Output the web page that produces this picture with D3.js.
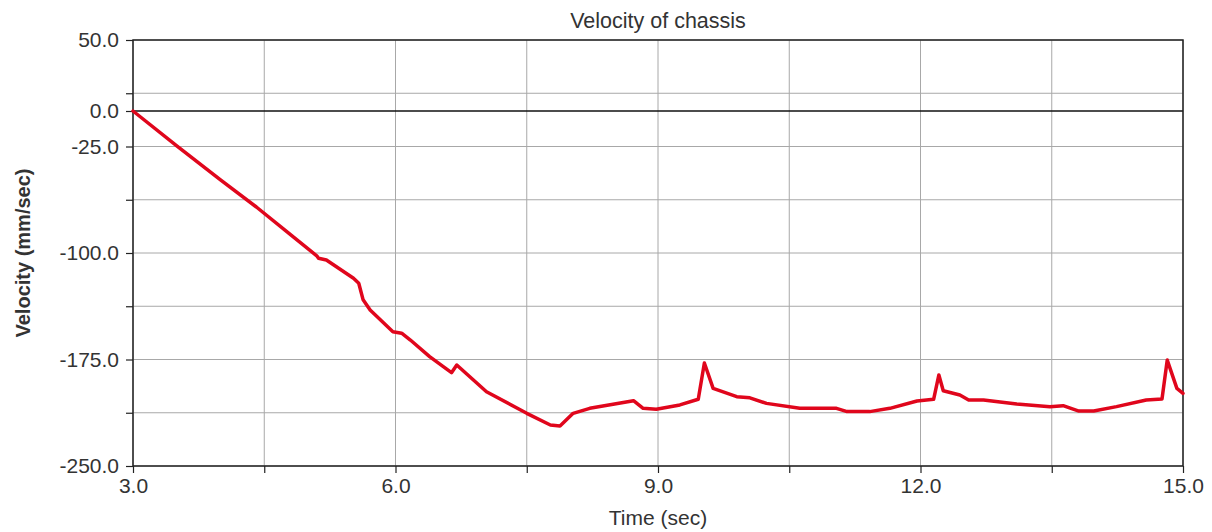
<!DOCTYPE html>
<html>
<head>
<meta charset="utf-8">
<script src="https://cdn.jsdelivr.net/npm/d3@7"></script>
<style>
  html, body { margin: 0; padding: 0; background: #fff; }
  svg { display: block; }
  text { font-family: Arial, "Liberation Sans", sans-serif; fill: #333; }
</style>
</head>
<body>
<svg id="chart" width="1212" height="532"></svg>
<script>
// Chassis velocity trace (time in s, velocity in mm/s)
const timeValues = [3.00, 3.50, 4.00, 4.41, 4.80, 5.10, 5.12, 5.21, 5.52, 5.58, 5.63, 5.71, 5.97, 6.07, 6.17, 6.39, 6.64, 6.70, 7.04, 7.50, 7.77, 7.88, 8.03, 8.22, 8.72, 8.83, 8.98, 9.25, 9.46, 9.53, 9.63, 9.90, 10.05, 10.24, 10.62, 11.04, 11.16, 11.42, 11.65, 11.96, 12.15, 12.21, 12.26, 12.45, 12.55, 12.72, 13.10, 13.48, 13.63, 13.81, 13.98, 14.24, 14.58, 14.76, 14.82, 14.93, 15.00];
const velocityValues = [0.0, -24.5, -48.5, -67.6, -87.0, -102.0, -103.7, -104.9, -117.8, -121.3, -133.0, -140.1, -155.4, -156.5, -161.3, -173.0, -184.3, -178.9, -197.7, -212.9, -221.1, -221.8, -212.9, -209.4, -204.0, -209.4, -210.1, -207.0, -203.0, -177.5, -195.3, -201.2, -202.0, -205.9, -209.4, -209.4, -211.7, -211.7, -209.4, -204.2, -203.0, -185.9, -197.0, -200.0, -203.5, -203.5, -206.3, -208.2, -207.5, -211.3, -211.3, -208.2, -203.5, -202.8, -175.4, -195.3, -198.8];

// Axis ticks and gridlines
const xGridValues = [3.0, 4.5, 6.0, 7.5, 9.0, 10.5, 12.0, 13.5, 15.0];
const xTickLabels = [3.0, 6.0, 9.0, 12.0, 15.0];
const yGridValues = [50, 12.5, -25, -62.5, -100, -137.5, -175, -212.5, -250];
const yTickLabels = [50, 0, -25, -100, -175, -250];

const svg = d3.select("#chart");
const margin = { left: 133, right: 29, top: 40, bottom: 66 };
const W = 1212, H = 532;
const x = d3.scaleLinear().domain([3, 15]).range([margin.left, W - margin.right]);
const y = d3.scaleLinear().domain([-250, 50]).range([H - margin.bottom, margin.top]);

// one-decimal labels with a plain hyphen for negatives
const fmt = d3.formatLocale({ decimal: ".", thousands: ",", grouping: [3], currency: ["", ""], minus: "-" }).format(".1f");

const x0 = x.range()[0], x1 = x.range()[1];
const yTop = y.range()[1], yBot = y.range()[0];

// gridlines
const grid = svg.append("g");
grid.selectAll("line.gx").data(xGridValues).join("line")
  .attr("x1", d => x(d)).attr("x2", d => x(d))
  .attr("y1", yTop).attr("y2", yBot)
  .attr("stroke", "#a8a8a8").attr("stroke-width", 1);
grid.selectAll("line.gy").data(yGridValues).join("line")
  .attr("y1", d => y(d)).attr("y2", d => y(d))
  .attr("x1", x0).attr("x2", x1)
  .attr("stroke", "#a8a8a8").attr("stroke-width", 1);

// zero line
svg.append("line")
  .attr("x1", x0).attr("x2", x1)
  .attr("y1", y(0)).attr("y2", y(0))
  .attr("stroke", "#111").attr("stroke-width", 1.5);

// bottom axis (ticks at every gridline, labels every 3 s)
const xAxis = d3.axisBottom(x).tickValues(xGridValues).tickSize(7)
  .tickFormat(d => xTickLabels.includes(d) ? fmt(d) : "");
const gx = svg.append("g").attr("transform", `translate(0,${yBot})`).call(xAxis);
gx.select(".domain").remove();
gx.selectAll(".tick line").attr("stroke", "#222").attr("stroke-width", 1.2);
gx.selectAll(".tick text").attr("font-size", 21).attr("dy", "0.83em").attr("y", 10).attr("fill", "#333");

// left axis: ticks at every gridline and at zero
const yTicksAll = yGridValues.concat([0]);
const yAxis = d3.axisLeft(y).tickValues(yTicksAll).tickSize(7)
  .tickFormat(d => yTickLabels.includes(d) ? fmt(d) : "");
const gy = svg.append("g").attr("transform", `translate(${x0},0)`).call(yAxis);
gy.select(".domain").remove();
gy.selectAll(".tick line").attr("stroke", "#222").attr("stroke-width", 1.2);
gy.selectAll(".tick text").attr("font-size", 21).attr("x", -14).attr("fill", "#333");

// frame
svg.append("rect")
  .attr("x", x0).attr("y", yTop)
  .attr("width", x1 - x0).attr("height", yBot - yTop)
  .attr("fill", "none").attr("stroke", "#222").attr("stroke-width", 1.5);

// velocity trace
const line = d3.line().x((d, i) => x(timeValues[i])).y(d => y(d));
svg.append("path")
  .datum(velocityValues)
  .attr("d", line)
  .attr("fill", "none")
  .attr("stroke", "#e0061c")
  .attr("stroke-width", 3.5)
  .attr("stroke-linejoin", "round")
  .attr("stroke-linecap", "round");

// titles
svg.append("text")
  .attr("x", (x0 + x1) / 2).attr("y", 28)
  .attr("text-anchor", "middle").attr("font-size", 21.5)
  .text("Velocity of chassis");

svg.append("text")
  .attr("x", (x0 + x1) / 2).attr("y", 525)
  .attr("text-anchor", "middle").attr("font-size", 21)
  .text("Time (sec)");

svg.append("text")
  .attr("transform", `translate(30,${(yTop + yBot) / 2}) rotate(-90)`)
  .attr("text-anchor", "middle").attr("font-size", 20).attr("font-weight", "bold")
  .attr("fill", "#222")
  .text("Velocity (mm/sec)");
</script>
</body>
</html>
